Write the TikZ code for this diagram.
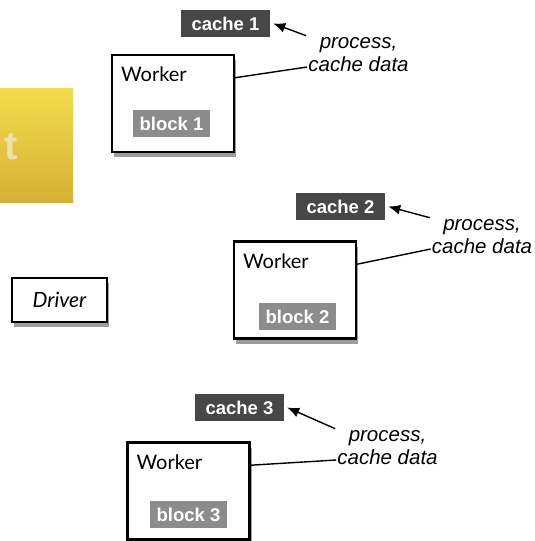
\documentclass[tikz,border=0pt]{standalone}
\usepackage{fontspec}
\setmainfont{Liberation Sans}
\newfontfamily\gillfont{Lato}
\usetikzlibrary{
	positioning
	,shadows
	,arrows.meta
	,calc
}
\tikzset{
	>={Latex[length=12pt,width=10pt]}
	,worker box/.style={
		draw, 
		line width=2.2pt,
		fill=white,
		minimum width=122pt,
		minimum height=97pt,
		drop shadow={shadow xshift=2pt,shadow yshift=-5pt,opacity=.55,fill=black!70}
	}
	,worker text/.style={
		anchor=north west,
		inner sep=0pt,
		font=\gillfont\fontsize{20}{23}\selectfont
	}
	,cache tag/.style={
		fill=black!72,
		text=white,
		inner sep=4pt,
		minimum width=89pt,
		minimum height=27pt,
		font=\bfseries\fontsize{18.5}{22}\selectfont
	}
	,block tag/.style={
		fill=black!45,
		text=white,
		inner sep=3pt,
		minimum width=77pt,
		minimum height=27pt,
		font=\bfseries\fontsize{18.5}{22}\selectfont
	}
	,note/.style={
		align=center,
		inner sep=0pt,
		font=\itshape\fontsize{20.5}{23}\selectfont
	}
	,link/.style={
		line width=1.4pt
	}
}

\begin{document}
\begin{tikzpicture}[x=1pt,y=-1pt]
	\useasboundingbox (0,0) rectangle (535,541);
	\clip (0,0) rectangle (535,541);

	% context box, cut at the left border
	\shade[top color={rgb,255:red,243;green,220;blue,78},bottom color={rgb,255:red,214;green,176;blue,52}]
		(-80,88) rectangle (73,202);
	\node[anchor=east,inner sep=0pt,text={rgb,255:red,236;green,226;blue,170},
		font=\bfseries\fontsize{40}{44}\selectfont] (ctx) at (18,147) {t};

	% driver
	\node[worker box,minimum width=95pt,minimum height=44pt,
		font=\gillfont\itshape\fontsize{21}{24}\selectfont] (drv) at (59.5,300) {Driver};

	% workers
	\foreach \i/\wx/\wy/\bx/\by/\cx/\cy/\px/\py in{
		1/173/103.5/171.5/123.5/225.5/23.5/358.5/55,
		2/295/290/297.5/316.5/340.5/206.5/482/237,
		3/188.5/491/188.5/514.5/239.5/407.5/387.5/448%
	}{
		\node[worker box] (w\i) at (\wx,\wy) {};
		\node[worker text] (wt\i) at ($(w\i.north west)+(10,13)$) {Worker};
		\node[block tag] (b\i) at (\bx,\by) {block \i};
		\node[cache tag] (c\i) at (\cx,\cy) {cache \i};
		\node[note] (p\i) at (\px,\py) {process,\\cache data};
		\draw[link] ($(w\i.north east)!0.24!(w\i.south east)$)
			-- ($(p\i.west)+(-1,12)$);
		\draw[link,->] ($(p\i.north west)+(-2,-2)$) -- ($(c\i.east)+(3,0)$);
	}
\end{tikzpicture}
\end{document}
